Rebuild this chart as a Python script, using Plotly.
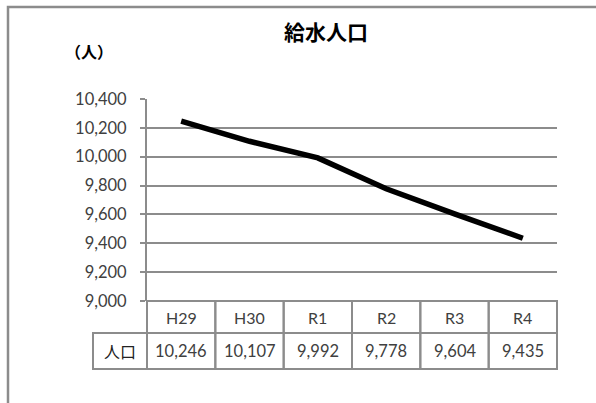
import plotly.graph_objects as go

# ---- data ----
categories = ["H29", "H30", "R1", "R2", "R3", "R4"]
population = [10246, 10107, 9992, 9778, 9604, 9435]
row_label = "人口"
title_text = "給水人口"
unit_text = "（人）"
y_ticks = [9000, 9200, 9400, 9600, 9800, 10000, 10200, 10400]

# ---- layout constants (pixels) ----
W, H = 596, 403
PX_L, PX_R = 147, 557      # plot area left/right
PX_T, PX_B = 99, 301       # plot area top/bottom
TBL_L = 93                 # left of row-label cell
TBL_MID = 333              # header / value divider
TBL_B = 369                # table bottom
GRID = "#8c8c8c"
TXT = "#404040"
NUMFONT = "Lato, 'Noto Sans CJK JP', sans-serif"
JPFONT = "'Noto Sans CJK JP', sans-serif"

n = len(categories)
colw = (PX_R - PX_L) / n

def fx(px):
    return px / W

def fy(px):
    return 1 - px / H

fig = go.Figure()

# main line
fig.add_trace(go.Scatter(
    x=[i + 0.5 for i in range(n)], y=population, mode="lines",
    line=dict(color="black", width=5.5), hoverinfo="skip", showlegend=False,
    xaxis="x", yaxis="y"))

# table subplot: x2 in column units, y2 in pixel units (downward)
pad = 4
x2_lo = (TBL_L - pad - PX_L) / colw
x2_hi = (PX_R + pad - PX_L) / colw
y2_top, y2_bot = PX_B - pad, TBL_B + pad

fig.add_trace(go.Scatter(x=[0], y=[PX_B], mode="markers", marker=dict(opacity=0),
                         hoverinfo="skip", showlegend=False, xaxis="x2", yaxis="y2"))

shapes = []
# outer chart frame (cut by window)
shapes.append(dict(type="rect", xref="paper", yref="paper",
                   x0=fx(8), x1=fx(W + 20), y0=fy(H + 20), y1=fy(7),
                   line=dict(color=GRID, width=2.5), layer="below"))
# table grid
cell_line = dict(color=GRID, width=2)
for i in range(n):
    shapes.append(dict(type="rect", xref="x2", yref="y2", x0=i, x1=i + 1,
                       y0=PX_B, y1=TBL_MID, line=cell_line))
    shapes.append(dict(type="rect", xref="x2", yref="y2", x0=i, x1=i + 1,
                       y0=TBL_MID, y1=TBL_B, line=cell_line))
shapes.append(dict(type="rect", xref="x2", yref="y2", x0=(TBL_L - PX_L) / colw, x1=0,
                   y0=TBL_MID, y1=TBL_B, line=cell_line))

annotations = []
for i, (c, v) in enumerate(zip(categories, population)):
    annotations.append(dict(x=i + 0.5, y=(PX_B + TBL_MID) / 2, xref="x2", yref="y2",
                            text=c, showarrow=False, xanchor="center", yanchor="middle",
                            font=dict(family=NUMFONT, size=16, color=TXT)))
    annotations.append(dict(x=i + 0.5, y=(TBL_MID + TBL_B) / 2, xref="x2", yref="y2",
                            text=f"{v:,}", showarrow=False, xanchor="center", yanchor="middle",
                            font=dict(family=NUMFONT, size=16.5, color=TXT)))
annotations.append(dict(x=(TBL_L - PX_L) / colw / 2, y=(TBL_MID + TBL_B) / 2,
                        xref="x2", yref="y2", text=row_label, showarrow=False,
                        xanchor="center", yanchor="middle",
                        font=dict(family=JPFONT, size=16, color="#222")))
annotations.append(dict(x=fx(326), y=fy(31), xref="paper", yref="paper",
                        text=title_text, showarrow=False, xanchor="center", yanchor="middle",
                        font=dict(family=JPFONT, size=21, color="black", weight=700)))
annotations.append(dict(x=fx(89), y=fy(51), xref="paper", yref="paper",
                        text=unit_text, showarrow=False, xanchor="center", yanchor="middle",
                        font=dict(family=JPFONT, size=16, color="black", weight=700)))

fig.update_layout(
    width=W, height=H, margin=dict(l=0, r=0, t=0, b=0, pad=0, autoexpand=False),
    showlegend=False,
    paper_bgcolor="white", plot_bgcolor="rgba(0,0,0,0)",
    xaxis=dict(domain=[fx(PX_L), fx(PX_R)], range=[0, n], showgrid=False, automargin=False,
               zeroline=False, showticklabels=False, showline=False, fixedrange=True),
    yaxis=dict(domain=[fy(PX_B), fy(PX_T)], range=[9000, 10400], tickvals=y_ticks,
               tickformat=",d", showgrid=True, gridcolor=GRID, gridwidth=2, automargin=False,
               zeroline=False, showline=True, linecolor=GRID, linewidth=2,
               ticks="outside", ticklen=5, tickcolor=GRID, tickwidth=2,
               ticklabelstandoff=10,
               tickfont=dict(family=NUMFONT, size=16.5, color=TXT), fixedrange=True),
    xaxis2=dict(domain=[fx(TBL_L - pad), fx(PX_R + pad)], range=[x2_lo, x2_hi],
                visible=False, anchor="y2", fixedrange=True, automargin=False),
    yaxis2=dict(domain=[fy(y2_bot), fy(y2_top)], range=[y2_bot, y2_top],
                visible=False, anchor="x2", fixedrange=True, automargin=False),
    shapes=shapes, annotations=annotations,
)

fig.write_html("out.html", config={"displayModeBar": False})
